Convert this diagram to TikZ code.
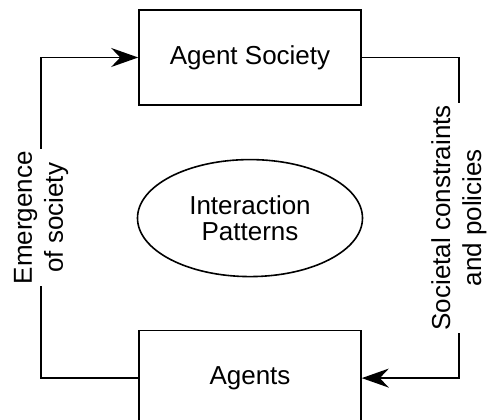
\documentclass[tikz,border=0pt]{standalone}
\usepackage{fontspec}
\setmainfont{Liberation Sans}
\usetikzlibrary{positioning,arrows.meta,shapes.geometric}

\begin{document}
\begin{tikzpicture}[
  x=1pt, y=1pt, >={Stealth[length=27pt, width=19pt, inset=9pt]},
  line width=1.6pt,
  box/.style={draw, minimum width=222pt, minimum height=95pt,
              font=\fontsize{26}{30}\selectfont},
  pat/.style={draw, ellipse, minimum width=225pt, minimum height=117pt,
              inner sep=0pt, align=center, font=\fontsize{26}{26}\selectfont},
  lbl/.style={rotate=90, fill=white, align=center, inner sep=2pt,
              font=\fontsize{26}{31}\selectfont}]
  \useasboundingbox (0,0) rectangle (488,420);
  \node[box] (soc) at (250,362.5) {Agent Society};
  \node[box, below=224pt of soc] (ag) {Agents};
  \node[pat, below=53pt of soc] (inter) {Interaction\\Patterns};
  \draw[->] (ag.west) -- ++(-97,0) |- node[lbl, pos=0.25] {Emergence\\of society} (soc.west);
  \draw[->] (soc.east) -- ++(97,0) |- node[lbl, pos=0.25] {Societal constraints\\and policies} (ag.east);
\end{tikzpicture}
\end{document}
